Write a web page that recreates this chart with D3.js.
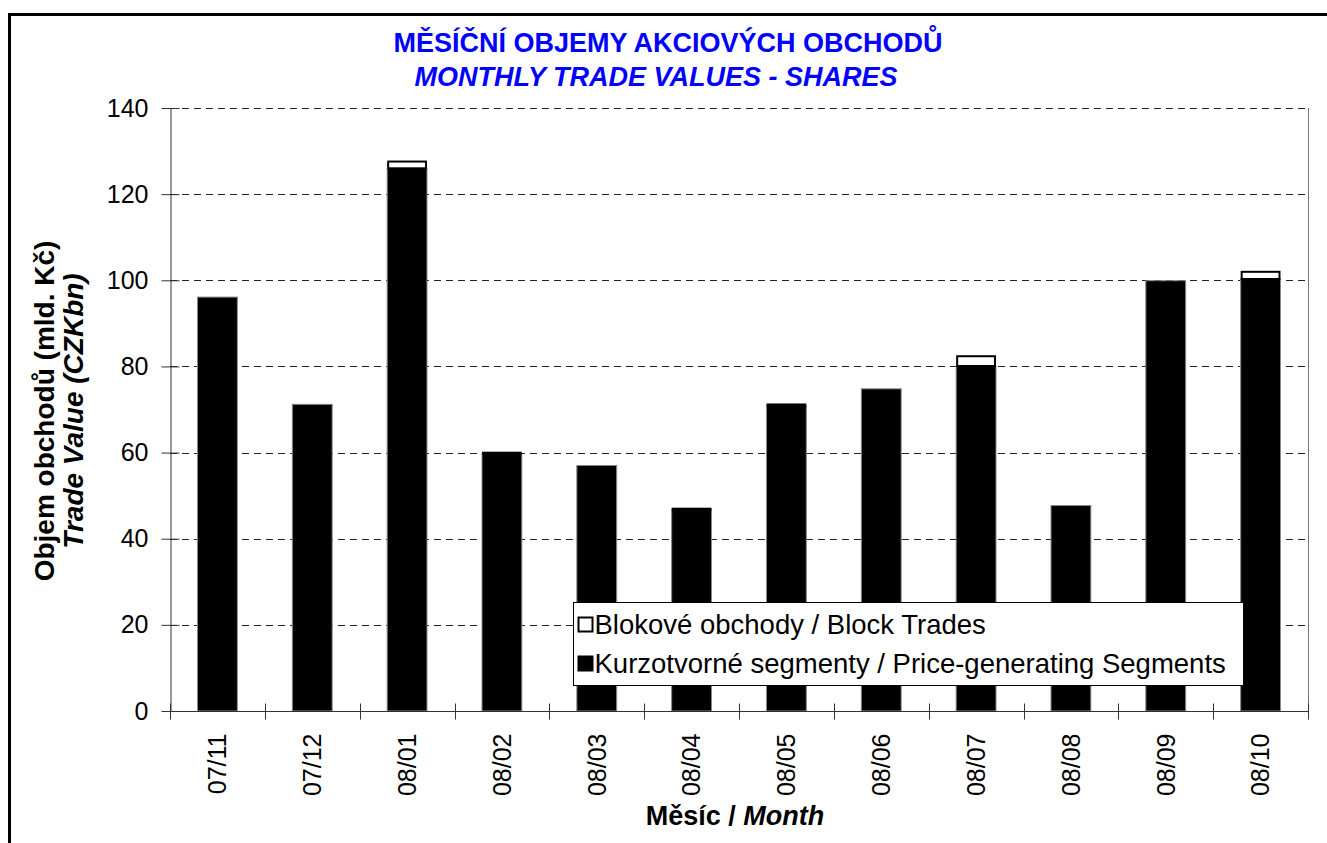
<!DOCTYPE html>
<html>
<head>
<meta charset="utf-8">
<script src="https://cdn.jsdelivr.net/npm/d3@7"></script>
<style>
  body { margin: 0; background: #fff; }
  text { font-family: Arial, "Liberation Sans", sans-serif; }
</style>
</head>
<body>
<div id="chart"></div>
<script>
// data (CZK bn)
const months = ["07/11", "07/12", "08/01", "08/02", "08/03", "08/04", "08/05", "08/06", "08/07", "08/08", "08/09", "08/10"];
const priceSegments = [96.1, 71.2, 126.0, 59.7, 57.0, 46.7, 70.8, 74.8, 80.1, 47.7, 99.9, 100.3];
const blockTrades = [0.0, 0.0, 1.8, 0.5, 0.0, 0.5, 0.6, 0.0, 2.5, 0.0, 0.1, 1.9];
const yTicks = [0, 20, 40, 60, 80, 100, 120, 140];
const legendLabels = ["Blokové obchody / Block Trades", "Kurzotvorné segmenty / Price-generating Segments"];

const W = 1327, H = 843;
const plot = { left: 170, right: 1308, top: 108, bottom: 711 };

function drawChart(containerId = "chart") {
    const svg = d3.select(`#${containerId}`).append("svg")
        .attr("width", W)
        .attr("height", H);

    svg.append("rect").attr("width", W).attr("height", H).attr("fill", "#fff");

    // outer frame (only top and left visible)
    svg.append("path")
        .attr("d", `M9.5,${H} V14.5 H${W}`)
        .attr("fill", "none")
        .attr("stroke", "#000")
        .attr("stroke-width", 3);

    const x = d3.scaleBand()
        .domain(months)
        .range([plot.left, plot.right])
        .paddingInner(0.58)
        .paddingOuter(0.29);

    const y = d3.scaleLinear()
        .domain([0, 140])
        .range([plot.bottom, plot.top]);

    // gridlines
    svg.append("g")
        .selectAll("line")
        .data(yTicks.filter(d => d > 0))
        .join("line")
        .attr("x1", plot.left)
        .attr("x2", plot.right)
        .attr("y1", d => Math.round(y(d)) + 0.5)
        .attr("y2", d => Math.round(y(d)) + 0.5)
        .attr("stroke", "#222")
        .attr("stroke-dasharray", "7,5");

    // right border of plot area
    svg.append("line")
        .attr("x1", plot.right + 0.5).attr("x2", plot.right + 0.5)
        .attr("y1", plot.top).attr("y2", plot.bottom)
        .attr("stroke", "#777");

    // stacked bars
    const stacked = months.map((m, i) => ({ m, p: priceSegments[i], b: blockTrades[i] }));
    const bars = svg.append("g");
    bars.selectAll("rect.price")
        .data(stacked)
        .join("rect")
        .attr("class", "price")
        .attr("x", d => x(d.m))
        .attr("width", x.bandwidth())
        .attr("y", d => y(d.p))
        .attr("height", d => y(0) - y(d.p))
        .attr("fill", "#000")
        .attr("stroke", "#888")
        .attr("stroke-width", 1);
    bars.selectAll("rect.block")
        .data(stacked.filter(d => d.b > 0.3))
        .join("rect")
        .attr("class", "block")
        .attr("x", d => x(d.m) + 1)
        .attr("width", x.bandwidth() - 2)
        .attr("y", d => y(d.p + d.b) + 1)
        .attr("height", d => Math.max(0.6, y(d.p) - y(d.p + d.b) - 1))
        .attr("fill", "#fff")
        .attr("stroke", "#000")
        .attr("stroke-width", 2);

    // y axis
    const yAxis = svg.append("g")
        .attr("transform", `translate(${plot.left + 0.5},0)`)
        .call(d3.axisLeft(y).tickValues(yTicks).tickSize(9).tickPadding(13).tickSizeOuter(0));
    yAxis.select(".domain").attr("stroke", "#333");
    yAxis.selectAll(".tick line").attr("stroke", "#333").attr("x2", -9).attr("x1", 9);
    yAxis.selectAll(".tick text")
        .attr("font-size", 25)
        .attr("font-family", "Arial, 'Liberation Sans', sans-serif")
        .attr("fill", "#000");

    // x axis with ticks between categories
    const xAxisG = svg.append("g")
        .attr("transform", `translate(0,${plot.bottom + 0.5})`);
    xAxisG.append("line")
        .attr("x1", plot.left).attr("x2", plot.right)
        .attr("stroke", "#333");
    const step = x.step();
    const boundaries = d3.range(months.length + 1).map(i => plot.left + i * step);
    xAxisG.selectAll("line.tk")
        .data(boundaries)
        .join("line")
        .attr("class", "tk")
        .attr("x1", d => Math.round(d) + 0.5).attr("x2", d => Math.round(d) + 0.5)
        .attr("y1", -8).attr("y2", 8)
        .attr("stroke", "#333");
    xAxisG.selectAll("text")
        .data(months)
        .join("text")
        .attr("transform", d => `translate(${x(d) + x.bandwidth() / 2},22) rotate(-90)`)
        .attr("text-anchor", "end")
        .attr("dy", "0.35em")
        .attr("font-size", 25)
        .attr("fill", "#000")
        .text(d => d);

    // title
    const title = svg.append("text")
        .attr("text-anchor", "middle")
        .attr("font-size", 27)
        .attr("font-weight", "bold")
        .attr("fill", "#0000ff");
    title.append("tspan").attr("x", 668).attr("y", 52).text("MĚSÍČNÍ OBJEMY AKCIOVÝCH OBCHODŮ");
    title.append("tspan").attr("x", 656).attr("y", 86).attr("font-style", "italic").text("MONTHLY TRADE VALUES - SHARES");

    // y axis title
    const cy = 411;
    svg.append("text")
        .attr("transform", `translate(54,${cy}) rotate(-90)`)
        .attr("text-anchor", "middle")
        .attr("font-size", 28)
        .attr("font-weight", "bold")
        .text("Objem obchodů (mld. Kč)");
    svg.append("text")
        .attr("transform", `translate(83,${cy}) rotate(-90)`)
        .attr("text-anchor", "middle")
        .attr("font-size", 28)
        .attr("font-weight", "bold")
        .attr("font-style", "italic")
        .text("Trade Value (CZKbn)");

    // x axis title
    const xt = svg.append("text")
        .attr("x", 735)
        .attr("y", 825)
        .attr("text-anchor", "middle")
        .attr("font-size", 27)
        .attr("font-weight", "bold");
    xt.append("tspan").text("Měsíc / ");
    xt.append("tspan").attr("font-style", "italic").text("Month");

    // legend
    const lg = svg.append("g").attr("transform", "translate(573.5,602.5)");
    lg.append("rect")
        .attr("width", 670).attr("height", 83)
        .attr("fill", "#fff").attr("stroke", "#000");
    const items = lg.selectAll("g.item")
        .data(legendLabels)
        .join("g")
        .attr("class", "item")
        .attr("transform", (d, i) => `translate(0,${22 + i * 39})`);
    items.append("rect")
        .attr("x", 5).attr("y", -7).attr("width", 14).attr("height", 14)
        .attr("fill", (d, i) => i === 0 ? "#fff" : "#000")
        .attr("stroke", "#000").attr("stroke-width", 2);
    items.append("text")
        .attr("x", 21).attr("dy", "0.36em")
        .attr("font-size", 27.5)
        .text(d => d);
}

document.addEventListener('DOMContentLoaded', () => {
    drawChart();
});
</script>
</body>
</html>
